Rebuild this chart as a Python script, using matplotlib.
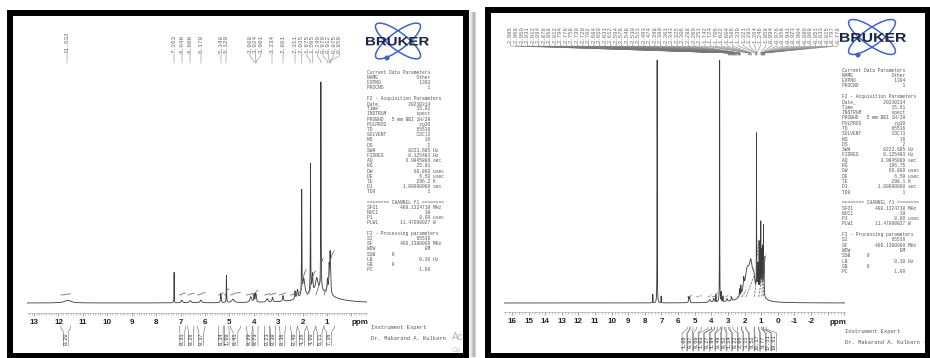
import numpy as np
import matplotlib.pyplot as plt
from matplotlib.patches import Rectangle, Ellipse, Circle, PathPatch
from matplotlib.textpath import TextPath
from matplotlib.font_manager import FontProperties
from matplotlib.transforms import Affine2D
from matplotlib.ticker import MultipleLocator

W, H = 930, 358
MONO = ['Liberation Mono', 'DejaVu Sans Mono']
SANS = ['Liberation Sans', 'DejaVu Sans']

# ---------------- spectrum 1 (EXPNO 1303) ----------------
s1_peak_ppm = [11.63, 7.263, 6.946, 6.606, 6.170, 5.348, 5.120, 4.85, 4.12, 3.988, 3.924,
               3.901, 3.45, 3.234, 2.801, 2.311, 2.21, 2.035, 1.95, 1.675, 1.595, 1.42,
               1.249, 0.979, 0.912, 0.875, 0.859, 1.30]
s1_peak_height = [0.012, 0.135, 0.012, 0.010, 0.012, 0.040, 0.120, 0.015, 0.025, 0.035, 0.030,
                  0.025, 0.015, 0.020, 0.025, 0.035, 0.040, 0.460, 0.080, 0.570, 0.080, 0.060,
                  0.920, 0.060, 0.110, 0.130, 0.080, 0.050]
s1_peak_width = [0.15, 0.006, 0.03, 0.04, 0.04, 0.015, 0.008, 0.06, 0.04, 0.015, 0.015,
                 0.015, 0.04, 0.02, 0.02, 0.015, 0.03, 0.008, 0.05, 0.008, 0.02, 0.06,
                 0.008, 0.02, 0.015, 0.015, 0.02, 0.6]
s1_shifts = [11.632, 7.263, 6.946, 6.606, 6.170, 5.348, 5.120, 3.988, 3.924, 3.901, 3.234,
             2.801, 2.311, 2.035, 1.675, 1.595, 1.249, 0.979, 0.912, 0.875, 0.859]
s1_int_from = [11.90, 7.05, 6.70, 6.30, 5.45, 5.20, 4.95, 4.30, 4.04, 3.55, 3.34, 2.95, 2.50,
               2.20, 1.82, 1.45, 1.12]
s1_int_to = [11.50, 6.80, 6.45, 6.00, 5.25, 5.02, 4.55, 4.04, 3.82, 3.34, 3.10, 2.70, 2.22,
             1.85, 1.48, 1.15, 0.70]
s1_int_value = [0.20, 0.31, 0.26, 0.37, 0.34, 1.00, 0.41, 0.29, 0.73, 0.23, 0.30, 0.36, 0.40,
                4.26, 4.00, 6.11, 7.36]

# ---------------- spectrum 2 (EXPNO 1304) ----------------
s2_peak_ppm = [7.52, 7.26, 7.02, 5.35, 5.30, 4.10, 3.85, 3.72, 3.50, 3.40, 3.30, 3.05, 2.78,
               2.30, 2.22, 2.05, 1.85, 1.75, 1.62, 1.45, 1.28, 1.20, 1.12, 1.02, 1.00, 0.96,
               0.90, 0.86, 0.83]
s2_peak_height = [0.045, 2.5, 0.035, 0.030, 0.025, 0.015, 0.020, 0.040, 2.5, 0.050, 0.030,
                  0.015, 0.020, 0.040, 0.050, 0.060, 0.070, 0.110, 0.110, 0.080, 0.830, 0.150,
                  0.250, 0.330, 0.080, 0.190, 0.230, 0.340, 0.190]
s2_peak_width = [0.006, 0.005, 0.006, 0.02, 0.02, 0.06, 0.04, 0.006, 0.005, 0.008, 0.01, 0.04,
                 0.03, 0.015, 0.015, 0.03, 0.12, 0.3, 0.1, 0.08, 0.006, 0.02, 0.006, 0.006,
                 0.12, 0.008, 0.008, 0.006, 0.01]
s2_shifts = [2.985, 2.968, 2.950, 2.931, 2.912, 2.894, 2.876, 2.858, 2.812, 2.794, 2.776, 2.758,
             2.739, 2.720, 2.702, 2.684, 2.650, 2.631, 2.612, 2.594, 2.576, 2.548, 2.530, 2.511,
             2.493, 2.474, 2.398, 2.380, 2.361, 2.343, 2.325, 2.306, 2.288, 2.269, 2.251,
             1.742, 1.724, 1.706, 1.622, 1.604, 1.586, 1.339, 1.321, 1.283, 1.264, 1.246, 1.058,
             0.994, 0.976, 0.958, 0.941, 0.923, 0.904, 0.886, 0.868, 0.851, 0.833, 0.815, 0.797,
             0.778]
s2_int_from = [5.45, 5.28, 4.90, 4.20, 3.98, 3.82, 3.45, 3.36, 3.12, 2.88, 2.42, 2.18, 1.92,
               1.40, 1.14, 0.96, 0.86]
s2_int_to = [5.28, 5.10, 4.60, 3.98, 3.82, 3.62, 3.36, 3.20, 2.95, 2.70, 2.18, 1.92, 1.42,
             1.16, 0.96, 0.86, 0.70]
s2_int_value = [1.00, 0.87, 0.60, 1.03, 0.27, 1.94, 0.48, 0.52, 1.14, 0.22, 2.06, 3.11, 9.52,
                26.17, 9.77, 17.11, 19.61]


def lineshape(grid, ppm, height, width):
    y = np.zeros_like(grid)
    for p, h, w in zip(ppm, height, width):
        y += h / (1.0 + ((grid - p) / w) ** 2)
    return y


def param_rows(expno, time, ns, rg, te):
    def kv(k, v, u=''):
        return k.ljust(8) + v.rjust(15) + (' ' + u if u else '')
    return ["Current Data Parameters", kv('NAME', 'Other'), kv('EXPNO', expno), kv('PROCNO', '1'), '',
            "F2 - Acquisition Parameters", kv('Date_', '20230314'), kv('Time', time),
            kv('INSTRUM', 'spect'), kv('PROBHD', '5 mm BBI 1H/2H'), kv('PULPROG', 'zg30'),
            kv('TD', '65536'), kv('SOLVENT', 'CDCl3'), kv('NS', ns), kv('DS', '2'),
            kv('SWH', '8223.685', 'Hz'), kv('FIDRES', '0.125483', 'Hz'), kv('AQ', '3.9845889', 'sec'),
            kv('RG', rg), kv('DW', '60.800', 'usec'), kv('DE', '6.50', 'usec'), kv('TE', te, 'K'),
            kv('D1', '1.00000000', 'sec'), kv('TD0', '1'), '',
            "======== CHANNEL f1 ========", kv('SFO1', '400.1324710', 'MHz'), kv('NUC1', '1H'),
            kv('P1', '8.00', 'usec'), kv('PLW1', '11.47000027', 'W'), '',
            "F2 - Processing parameters", kv('SI', '65536'), kv('SF', '400.1300000', 'MHz'),
            kv('WDW', 'EM'), 'SSB'.ljust(9) + '0', kv('LB', '0.30', 'Hz'), 'GB'.ljust(9) + '0',
            kv('PC', '1.00')]


def spread(xs, gap, lo, hi):
    # push crowded labels apart, keeping each crowded group centred on its peaks
    xs = np.asarray(xs, float)
    order = np.argsort(xs)
    groups = [[v] for v in xs[order]]

    def span(g):
        c = np.mean(g)
        return c - (len(g) - 1) / 2 * gap, c + (len(g) - 1) / 2 * gap

    merged = True
    while merged:
        merged = False
        out = [groups[0]]
        for g in groups[1:]:
            if span(g)[0] - span(out[-1])[1] < gap:
                out[-1] = out[-1] + g
                merged = True
            else:
                out.append(g)
        groups = out
    pos = []
    for g in groups:
        s = span(g)[0]
        pos += [s + i * gap for i in range(len(g))]
    pos = np.array(pos)
    if pos[-1] > hi:
        pos -= pos[-1] - hi
    if pos[0] < lo:
        pos += lo - pos[0]
    res = np.empty_like(pos)
    res[order] = pos
    return res


fig = plt.figure(figsize=(W / 100, H / 100), dpi=100)
ov = fig.add_axes([0, 0, 1, 1])
ov.set_xlim(0, W)
ov.set_ylim(H, 0)
ov.axis('off')


def panel(cfg):
    xr, yr, lim = cfg['xr'], cfg['yr'], cfg['lim']
    base, unit = cfg['base'], cfg['unit']

    def px(p):
        return xr[0] + (lim[0] - np.asarray(p)) / (lim[0] - lim[1]) * (xr[1] - xr[0])

    ax = fig.add_axes([xr[0] / W, 1 - yr[1] / H, (xr[1] - xr[0]) / W, (yr[1] - yr[0]) / H])
    ax.set_xlim(*lim)
    ax.set_ylim((base - yr[1]) / unit, (base - yr[0]) / unit)
    ax.patch.set_alpha(0)
    for s in ['top', 'left', 'right']:
        ax.spines[s].set_visible(False)
    ax.spines['bottom'].set_color('#999999')
    ax.spines['bottom'].set_linewidth(0.4)
    ax.set_yticks([])
    ax.set_xticks(cfg['ticks'])
    ax.set_xticklabels([str(t) if t in cfg['labelled'] else '' for t in cfg['ticks']])
    ax.xaxis.set_minor_locator(MultipleLocator(cfg['minor']))
    ax.tick_params(axis='x', which='major', length=2.5, width=0.5, color='#777777', pad=1.5)
    ax.tick_params(axis='x', which='minor', length=1.3, width=0.4, color='#999999')
    for t in ax.get_xticklabels():
        t.set_fontfamily(SANS)
        t.set_fontweight('bold')
        t.set_fontsize(5.8)
        t.set_color('#222222')
    ov.text(cfg['ppm_x'], 322, 'ppm', family=SANS, weight='bold', fontsize=5.8,
            color='#222222', ha='center', va='center')

    grid = np.arange(lim[0], lim[1], -0.001)
    spec = lineshape(grid, cfg['peak_ppm'], cfg['peak_height'], cfg['peak_width'])
    ax.plot(grid, spec, color='#3a3a3a', lw=0.6)

    # integral curves over the spectrum
    for a, b, v in zip(cfg['int_from'], cfg['int_to'], cfg['int_value']):
        m = (grid <= a) & (grid >= b)
        cum = np.cumsum(spec[m])
        cum = (cum / cum[-1] * v * cfg['int_scale'] + cfg['int_offset']) / unit
        ax.plot(grid[m], cum, color='#666666', lw=0.55, ls=cfg['int_ls'])

    # chemical shift labels with leader lines
    lab = spread(px(cfg['shifts']), cfg['lab_gap'], cfg['lab_lo'], cfg['lab_hi'])
    yb, yp = cfg['lab_y']
    for s, lx in zip(cfg['shifts'], lab):
        pxs = float(px(s))
        ov.plot([lx, lx, pxs, pxs], [yb + 1, yb + 3, yp - 2, yp], color='#777777', lw=0.35)
        ov.text(lx, yb, f'{s:.3f}', family=MONO, fontsize=cfg['lab_fs'], color='#666666',
                rotation=90, ha='center', va='bottom')

    # integral labels under the axis
    mids = [(a + b) / 2 for a, b in zip(cfg['int_from'], cfg['int_to'])]
    ilab = spread(px(mids), cfg['int_gap'], 0, W)
    y0, y1 = cfg['int_y']
    for a, b, v, lx in zip(cfg['int_from'], cfg['int_to'], cfg['int_value'], ilab):
        pa, pb = float(px(a)), float(px(b))
        ov.plot([pa, pa, lx - 2.4, lx - 2.4], [y0, y0 + 2, y0 + 6, y1], color='#666666', lw=0.4)
        ov.plot([pb, pb, lx + 2.4, lx + 2.4], [y0, y0 + 2, y0 + 6, y1], color='#666666', lw=0.4)
        ov.text(lx, (y0 + 6 + y1) / 2, f'{v:.2f}', family=MONO, fontsize=3.8, color='#333333',
                rotation=90, ha='center', va='center')
    return ax


panel(dict(xr=(27, 367), yr=(60, 313), lim=(13.29, -0.64), base=303, unit=226,
           ticks=list(range(0, 14)), labelled=list(range(1, 14)), minor=0.1, ppm_x=360,
           peak_ppm=s1_peak_ppm, peak_height=s1_peak_height, peak_width=s1_peak_width,
           int_from=s1_int_from, int_to=s1_int_to, int_value=s1_int_value, int_scale=6.0,
           int_offset=8.0, int_ls='-', shifts=s1_shifts, lab_gap=5.4, lab_lo=30, lab_hi=360,
           lab_y=(53, 63), lab_fs=4.4, int_gap=6.0, int_y=(326, 346)))

panel(dict(xr=(504, 845), yr=(60, 312), lim=(16.48, -4.05), base=303, unit=187,
           ticks=list(range(-4, 17)), labelled=list(range(-2, 17)), minor=0.2, ppm_x=838,
           peak_ppm=s2_peak_ppm, peak_height=s2_peak_height, peak_width=s2_peak_width,
           int_from=s2_int_from, int_to=s2_int_to, int_value=s2_int_value, int_scale=2.2,
           int_offset=6.0, int_ls=(0, (3, 1.5)), shifts=s2_shifts, lab_gap=5.55, lab_lo=507,
           lab_hi=838, lab_y=(43, 55), lab_fs=4.1, int_gap=5.6, int_y=(327, 351)))


# Bruker logo
def logo(cx, cy, length, minor, angle, dot, tx, ty):
    for a in (angle, -angle):
        ov.add_patch(Ellipse((cx, cy), length, minor, angle=a, fill=False, ec='#3f63c8', lw=1.1))
    ov.add_patch(Circle(dot, 1.8, color='#3f63c8'))
    tp = TextPath((0, 0), 'BRUKER', size=10, prop=FontProperties(family=SANS, weight='bold'))
    bb = tp.get_extents()
    tr = (Affine2D().translate(-bb.x0, -bb.y0)
          .scale((tx[1] - tx[0]) / bb.width, -(ty[1] - ty[0]) / bb.height)
          .translate(tx[0], ty[1]))
    ov.add_patch(PathPatch(tr.transform_path(tp), fc='#1c2541', ec='none', zorder=3))


logo(398, 41, 55, 17, 37, (387, 58), (366, 429), (37, 45.5))
logo(872, 37, 56, 17, 35, (858, 55), (840, 906), (33, 42))

# acquisition / processing parameter blocks
for x, y, step, rows in [(367, 72.3, 5.195, param_rows('1303', '15.01', '16', '25.01', '296.2')),
                         (842, 70.0, 5.31, param_rows('1304', '15.51', '16', '196.75', '298.1'))]:
    for i, r in enumerate(rows):
        if r:
            ov.text(x, y + i * step, r, family=MONO, fontsize=3.35, color='#555555',
                    ha='left', va='center')

for x, y in [(371, 327), (845, 331)]:
    ov.text(x, y, 'Instrument Expert', family=MONO, fontsize=4.0, color='#555555', va='center')
    ov.text(x, y + 12, 'Dr. Makarand A. Kulkarn', family=MONO, fontsize=4.0, color='#555555',
            va='center')

# faint desktop watermark peeking under the frames
ov.text(452, 337, 'Ac', family=SANS, fontsize=7, color='#b5b5b5', va='center', zorder=1)
ov.text(452, 350, 'Go', family=SANS, fontsize=5, color='#c5c5c5', va='center', zorder=1)
ov.text(924, 340, 'A', family=SANS, fontsize=7, color='#b5b5b5', va='center', zorder=1)

# drop shadow between the two screenshots
for x0, c in [(470, '#e2e2e2'), (471.5, '#c8c8c8'), (473, '#b8b8b8'), (474.5, '#d0d0d0')]:
    ov.add_patch(Rectangle((x0, 12), 1.5, 345, color=c, lw=0, zorder=1))

# black frames
ov.add_patch(Rectangle((10, 13), 455.5, 343, fill=False, ec='black', lw=4.3, zorder=5))
ov.add_patch(Rectangle((488, 10), 440, 346, fill=False, ec='black', lw=4.3, zorder=5))

fig.savefig('out.png', dpi=100)
